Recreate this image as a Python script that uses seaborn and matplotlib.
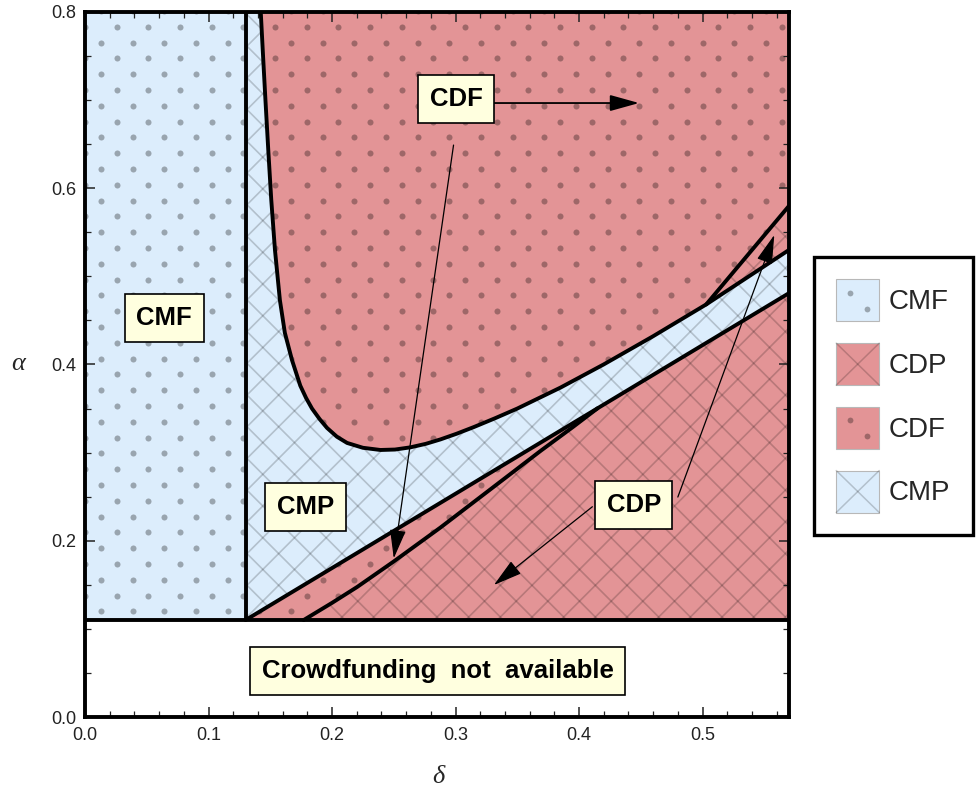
import numpy as np
import pandas as pd
import seaborn as sns
import matplotlib
matplotlib.use("Agg")
import matplotlib.pyplot as plt
from matplotlib.patches import Polygon, Rectangle, Patch
from matplotlib.collections import LineCollection
from matplotlib.lines import Line2D
from matplotlib.legend_handler import HandlerBase
from matplotlib.ticker import MultipleLocator

# ------------------------------------------------------------------ data
delta_max = 0.57
alpha_max = 0.8
alpha_min = 0.11      # below: crowdfunding not available
delta_cmf = 0.13      # CMF / rest boundary

# upper (hyperbola-like) boundary of the CDF region
curveA_delta = [0.1423, 0.1439, 0.1461, 0.1484, 0.1508, 0.1538, 0.1578, 0.1618,
                0.1676, 0.1743, 0.1790, 0.1838, 0.1900, 0.1960, 0.2040, 0.2122,
                0.2250, 0.2392, 0.2510, 0.2635, 0.2760, 0.2878, 0.3010, 0.3148,
                0.3320, 0.3500, 0.3850, 0.4200, 0.4600, 0.5030, 0.5700]
curveA_alpha = [0.800, 0.757, 0.700, 0.643, 0.587, 0.530, 0.473, 0.436,
                0.405, 0.376, 0.362, 0.350, 0.338, 0.328, 0.318, 0.311,
                0.3055, 0.303, 0.3035, 0.306, 0.310, 0.315, 0.3215, 0.329,
                0.339, 0.350, 0.3738, 0.4001, 0.4321, 0.4682, 0.5300]

# straight boundary (lower edge of CMP)
line_delta = [0.130, 0.415, 0.570]
line_alpha = [0.110, 0.3503, 0.481]

# lower curved boundary (CDF strip / CDP), lower and upper visible pieces
curveC_low_delta = [0.177, 0.2000, 0.2203, 0.2500, 0.2878, 0.3284, 0.3689, 0.3950, 0.4150]
curveC_low_alpha = [0.110, 0.1295, 0.1475, 0.1765, 0.2150, 0.2585, 0.3020, 0.3290, 0.3503]
curveC_up_delta = [0.5030, 0.5700]
curveC_up_alpha = [0.4682, 0.5800]

legend_labels = ["CMF", "CDP", "CDF", "CMP"]
legend_kinds = ["dots_blue", "cross_red", "dots_red", "cross_blue"]

region_labels = ["CMF", "CDF", "CMP", "CDP", "Crowdfunding  not  available"]
region_label_delta = [0.0641, 0.3004, 0.1784, 0.4443, 0.2858]
region_label_alpha = [0.4528, 0.7013, 0.2383, 0.2406, 0.0522]

# arrows: (start delta, start alpha) -> (tip delta, tip alpha)
arrow_start_delta = [0.3305, 0.2984, 0.4108, 0.4800]
arrow_start_alpha = [0.6967, 0.6490, 0.2386, 0.2496]
arrow_tip_delta = [0.4486, 0.2500, 0.3311, 0.5581]
arrow_tip_alpha = [0.6967, 0.1800, 0.1498, 0.5470]
arrow_lw = [1.3, 0.9, 0.9, 0.9]

# ------------------------------------------------------------------ style
BLUE = "#DCEDFC"
RED = "#E39496"
BOX = "#FFFFDF"
PAT = (0, 0, 0, 0.30)
HAT = (0, 0, 0, 0.19)

sns.set_theme(style="white")
plt.rcParams["font.family"] = ["Liberation Sans", "DejaVu Sans"]

fig = plt.figure(figsize=(9.79, 7.91), dpi=100)
ax = fig.add_axes([85 / 979, 1 - 717 / 791, 704 / 979, 705 / 791])
ax.set_xlim(0, delta_max)
ax.set_ylim(0, alpha_max)
ax.set_axisbelow(False)

A = np.column_stack([curveA_delta, curveA_alpha])
L = np.column_stack([line_delta, line_alpha])
Clow = np.column_stack([curveC_low_delta, curveC_low_alpha])
Cup = np.column_stack([curveC_up_delta, curveC_up_alpha])
iA = curveA_delta.index(curveC_up_delta[0])

polys = {
    "CMF": (np.array([[0, alpha_min], [delta_cmf, alpha_min], [delta_cmf, alpha_max], [0, alpha_max]]), BLUE, "dots"),
    "CMP": (np.vstack([[[delta_cmf, alpha_min], [delta_cmf, alpha_max]], A, L[::-1][:-1]]), BLUE, "cross"),
    "CDF_up": (np.vstack([A[: iA + 1], Cup[1:], [[delta_max, alpha_max]]]), RED, "dots"),
    "CDP_sliver": (np.vstack([A[iA:], Cup[::-1][:-1]]), RED, "cross"),
    "CDF_low": (np.vstack([L[:2], Clow[::-1]]), RED, "dots"),
    "CDP_low": (np.vstack([Clow, L[2:], [[delta_max, alpha_min]]]), RED, "cross"),
}

# pattern lattices (axes-fraction coordinates)
dx, dy = 31.67 / 704, 15.8 / 705
dot_x, dot_y = [], []
for j in range(-2, 50):
    y = (717 - 26.7) / 705 - j * dy
    off = 0.0 if j % 2 == 0 else -dx / 2
    xs = 31.7 / 704 + off + dx * np.arange(-2, 25)
    dot_x.extend(xs)
    dot_y.extend([y] * len(xs))
cs = np.arange(-30, 60) * dx + 0.012
segs = [[(0, c), (1, c + 1)] for c in cs - 1] + [[(0, c), (1, c - 1)] for c in cs]

for name, (pts, col, kind) in polys.items():
    poly = Polygon(pts, closed=True, facecolor=col, edgecolor="none", zorder=1)
    ax.add_patch(poly)
    if kind == "dots":
        sc = ax.scatter(dot_x, dot_y, s=19, color=PAT, linewidths=0,
                        transform=ax.transAxes, zorder=1.5)
        sc.set_clip_path(poly)
    else:
        lc = LineCollection(segs, colors=[HAT], linewidths=1.2,
                            transform=ax.transAxes, zorder=1.5)
        ax.add_collection(lc)
        lc.set_clip_path(poly)

# boundaries
LW = 2.8
for xs, ys in [(curveA_delta, curveA_alpha), (line_delta, line_alpha),
               (curveC_low_delta, curveC_low_alpha), (curveC_up_delta, curveC_up_alpha)]:
    sns.lineplot(x=xs, y=ys, ax=ax, color="black", lw=LW, sort=False,
                 estimator=None, zorder=4)
ax.axhline(alpha_min, color="black", lw=LW, zorder=4)
ax.vlines(delta_cmf, alpha_min, alpha_max, color="black", lw=LW, zorder=4)

# arrows
for sx, sy, tx, ty, lw in zip(arrow_start_delta, arrow_start_alpha,
                              arrow_tip_delta, arrow_tip_alpha, arrow_lw):
    ax.annotate("", xy=(tx, ty), xytext=(sx, sy),
                arrowprops=dict(arrowstyle="-|>,head_length=1.8,head_width=0.5",
                                mutation_scale=10, lw=lw, color="black",
                                shrinkA=0, shrinkB=0), zorder=5)

# region labels
for t, x, y in zip(region_labels, region_label_delta, region_label_alpha):
    ax.text(x, y, t, ha="center", va="center", fontsize=18.5, fontweight="bold",
            color="black", zorder=6,
            bbox=dict(boxstyle="square,pad=0.45", fc=BOX, ec="black", lw=1.2))

# axes, ticks
for s in ax.spines.values():
    s.set_color("black")
    s.set_linewidth(2.8)
    s.set_zorder(7)
ax.xaxis.set_major_locator(MultipleLocator(0.1))
ax.xaxis.set_minor_locator(MultipleLocator(0.02))
ax.yaxis.set_major_locator(MultipleLocator(0.2))
ax.yaxis.set_minor_locator(MultipleLocator(0.05))
ax.xaxis.set_major_formatter(matplotlib.ticker.FormatStrFormatter("%.1f"))
ax.yaxis.set_major_formatter(matplotlib.ticker.FormatStrFormatter("%.1f"))
ax.tick_params(which="both", direction="in", bottom=True, left=True, top=True,
               right=True, labeltop=False, labelright=False, color="#222222",
               labelcolor="#222222", labelsize=13)
ax.tick_params(which="major", length=7, width=1.1)
ax.tick_params(axis="y", which="major", pad=6)
ax.tick_params(axis="x", which="major", pad=7)
ax.tick_params(which="minor", length=4, width=0.9)

ax.set_xlabel("δ", fontsize=19, fontfamily="Liberation Serif", fontstyle="italic",
              va="center", ha="center")
ax.xaxis.set_label_coords(0.5014, -0.0844)
ax.set_ylabel("α", fontsize=19, fontfamily="Liberation Serif", fontstyle="italic",
              rotation=0, va="center", ha="center")
ax.yaxis.set_label_coords(-0.0945, 0.50)


# legend with pattern handles
class PatternHandler(HandlerBase):
    def create_artists(self, legend, orig_handle, xdescent, ydescent, width,
                       height, fontsize, trans):
        x0, y0 = -xdescent, -ydescent
        kind = orig_handle.get_gid()
        fc = BLUE if kind.endswith("blue") else RED
        arts = [Rectangle((x0, y0), width, height, facecolor=fc,
                          edgecolor="#b8b8b8", lw=0.8, transform=trans)]
        if kind.startswith("dots"):
            arts.append(Line2D([x0 + 0.32 * width, x0 + 0.71 * width],
                               [y0 + 0.68 * height, y0 + 0.30 * height],
                               ls="none", marker="o", ms=4.2, mfc=PAT, mec="none",
                               transform=trans))
        else:
            arts.append(Line2D([x0, x0 + width], [y0, y0 + height], color=HAT,
                               lw=1.1, transform=trans))
            arts.append(Line2D([x0, x0 + width], [y0 + height, y0], color=HAT,
                               lw=1.1, transform=trans))
        return arts


handles = [Patch(gid=k) for k in legend_kinds]
leg = fig.legend(handles, legend_labels, handler_map={Patch: PatternHandler()},
                 loc="center left", bbox_to_anchor=(814 / 979, 1 - 396 / 791),
                 frameon=True, fancybox=False, framealpha=1, edgecolor="black",
                 fontsize=20, handlelength=1.55, handleheight=1.95,
                 labelspacing=0.78, handletextpad=0.35, borderpad=0.8,
                 borderaxespad=0)
leg.get_frame().set_linewidth(2.4)

fig.savefig("out.png", dpi=100)
